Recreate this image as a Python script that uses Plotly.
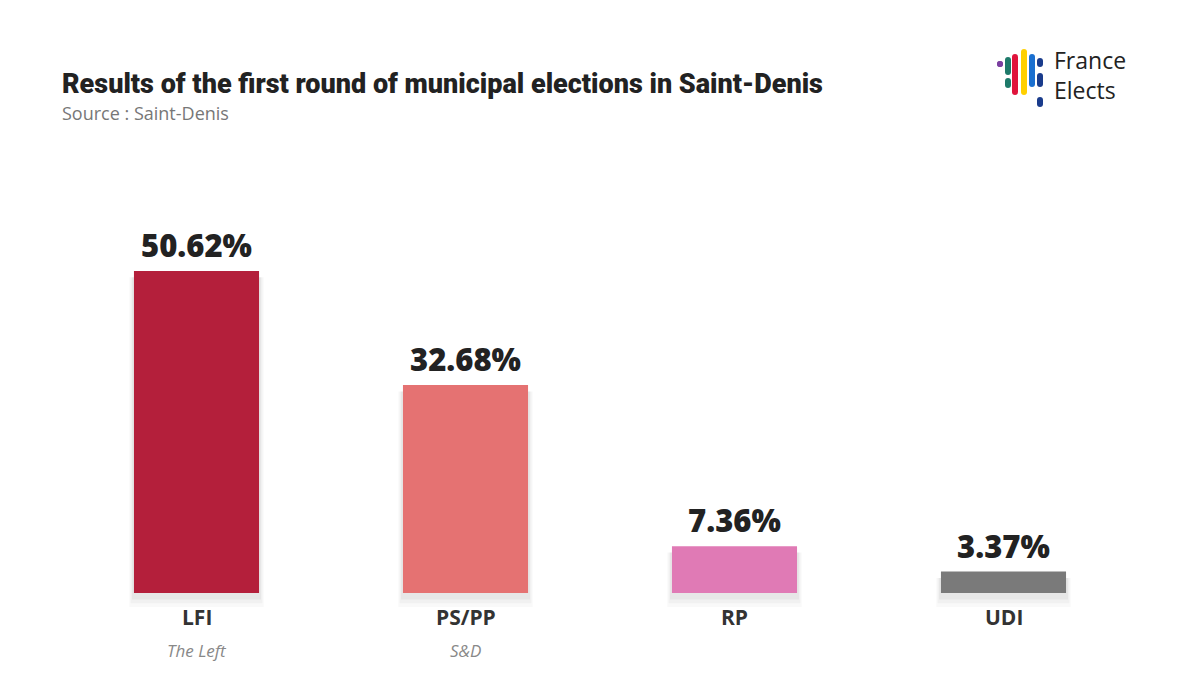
import plotly.graph_objects as go

# ---- data ----
parties = ["LFI", "PS/PP", "RP", "UDI"]
groups = ["The Left", "S&D", "", ""]
shares = [50.62, 32.68, 7.36, 3.37]
colors = ["#B41F3B", "#E57272", "#E07AB5", "#7A7A7A"]

title_text = "Results of the first round of municipal elections in Saint-Denis"
source_text = "Source : Saint-Denis"

W, H = 1200, 675
OFF = 8  # page body offset
ML, MR, MT, MB = 62 - OFF, 62 + OFF, 150 - OFF, 65 + OFF
PW, PH = W - ML - MR, H - MT - MB


def px(x):
    return (x - OFF - ML) / PW


def py(y):
    return (H - MB - (y - OFF)) / PH


fig = go.Figure()

# soft drop shadow layers
for w, b, op in [(0.50, -2.2, 0.025), (0.49, -1.6, 0.03), (0.48, -1.0, 0.04)]:
    fig.add_trace(go.Bar(
        x=parties, y=[v - b - 1.0 for v in shares], base=b, width=w,
        marker=dict(color=f"rgba(0,0,0,{op})", line=dict(width=0)),
        hoverinfo="skip", showlegend=False,
    ))

fig.add_trace(go.Bar(
    x=parties, y=shares, width=0.465,
    marker=dict(color=colors, line=dict(width=0)),
    showlegend=False,
))

annotations = []
for p, g, v in zip(parties, groups, shares):
    annotations.append(dict(
        x=p, y=v, xref="x", yref="y", text=f"{v:.2f}%", showarrow=False,
        yanchor="bottom", yshift=3,
        font=dict(family="Open Sans", size=31, color="#222222", weight=800),
    ))
    annotations.append(dict(
        x=p, y=py(617), xref="x", yref="paper", text=f"<b>{p}</b>", showarrow=False,
        yanchor="middle",
        font=dict(family="Open Sans", size=21, color="#333333"),
    ))
    if g:
        annotations.append(dict(
            x=p, y=py(650), xref="x", yref="paper", text=f"<i>{g}</i>", showarrow=False,
            yanchor="middle",
            font=dict(family="Open Sans", size=17, color="#888888"),
        ))

annotations.append(dict(
    x=px(60), y=py(84), xref="paper", yref="paper", text=title_text, showarrow=False,
    xanchor="left", yanchor="middle",
    font=dict(family="Roboto", size=27, color="#222222", weight=900),
))
annotations.append(dict(
    x=px(60), y=py(113), xref="paper", yref="paper", text=source_text, showarrow=False,
    xanchor="left", yanchor="middle",
    font=dict(family="Open Sans", size=18, color="#777777"),
))
annotations.append(dict(
    x=px(1052), y=py(75), xref="paper", yref="paper", text="France<br>Elects",
    showarrow=False, xanchor="left", yanchor="middle", align="left",
    font=dict(family="Open Sans", size=23, color="#222222"),
))

# logo marks
logo = [
    ("#7B3FA0", 1000, 61, 67),
    ("#1E7A6A", 1008, 57, 75), ("#1E7A6A", 1008, 78, 88),
    ("#E0143C", 1015, 54, 95),
    ("#FFD000", 1024, 49, 95),
    ("#1A6FD0", 1032, 54, 87),
    ("#1A3C8C", 1040, 58, 67), ("#1A3C8C", 1040, 73, 87), ("#1A3C8C", 1040, 97, 107),
]
shapes = []
for c, cx, y0, y1 in logo:
    shapes.append(dict(
        type="line", xref="paper", yref="paper",
        x0=px(cx), x1=px(cx), y0=py(y0 + 3), y1=py(y1 - 3),
        line=dict(color=c, width=6),
    ))
    shapes.append(dict(type="circle", xref="paper", yref="paper",
                       x0=px(cx - 3), x1=px(cx + 3), y0=py(y0), y1=py(y0 + 6),
                       fillcolor=c, line=dict(width=0)))
    shapes.append(dict(type="circle", xref="paper", yref="paper",
                       x0=px(cx - 3), x1=px(cx + 3), y0=py(y1 - 6), y1=py(y1),
                       fillcolor=c, line=dict(width=0)))

fig.update_layout(
    width=W, height=H,
    margin=dict(l=ML, r=MR, t=MT, b=MB, pad=0),
    paper_bgcolor="white", plot_bgcolor="white",
    barmode="overlay",
    xaxis=dict(showticklabels=False, showgrid=False, zeroline=False, showline=False,
               ticks="", fixedrange=True),
    yaxis=dict(range=[-2.67, 69.64], visible=False, showgrid=False, zeroline=False,
               fixedrange=True),
    annotations=annotations,
    shapes=shapes,
    showlegend=False,
)

fig.write_html("out.html")
